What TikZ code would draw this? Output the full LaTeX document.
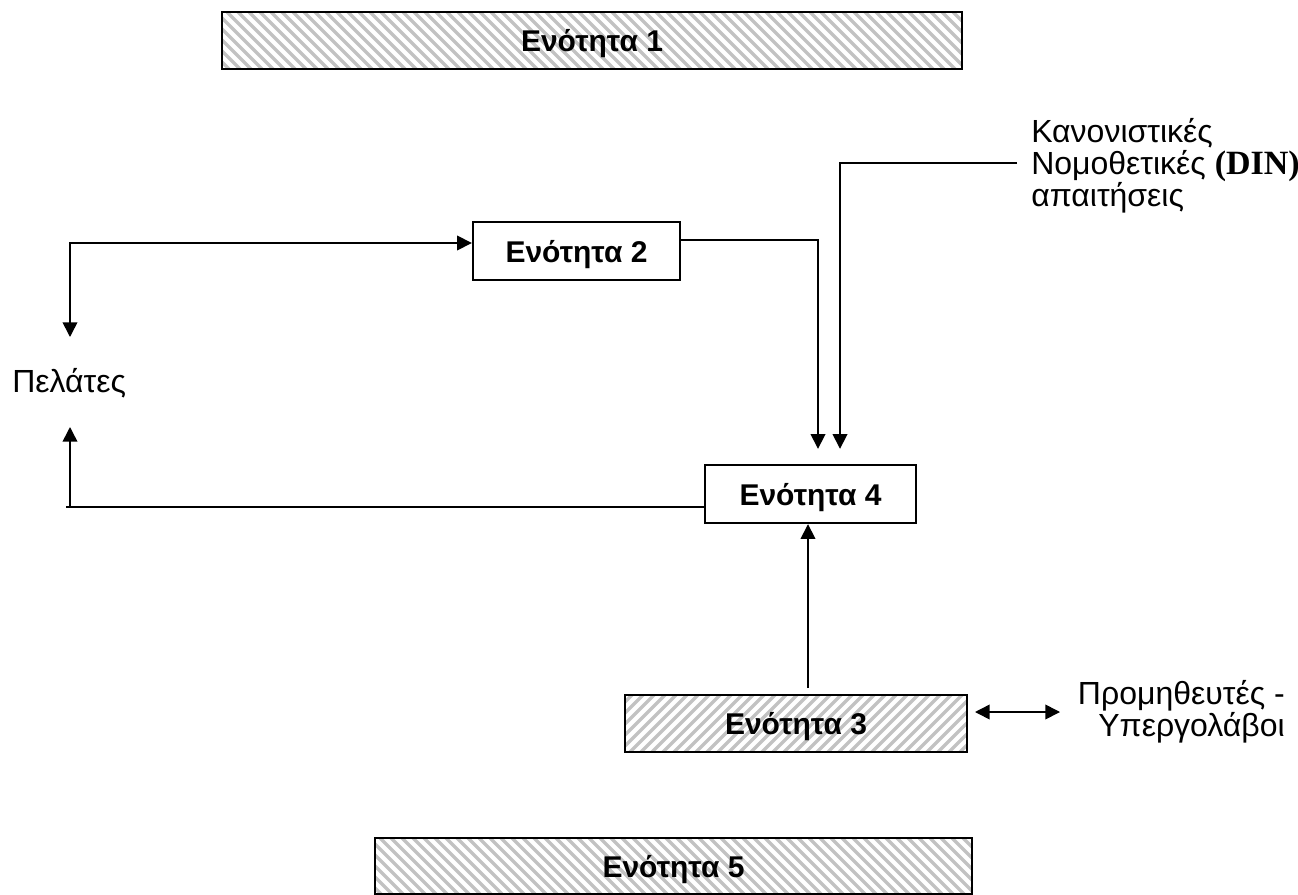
\documentclass[tikz,border=0pt]{standalone}
\usepackage{fontspec}
\setmainfont{Liberation Sans}
\newfontfamily\dinfont{Liberation Serif}
\usetikzlibrary{arrows.meta,calc}

\begin{document}
\begin{tikzpicture}[x=0.75pt,y=-0.75pt,
  box/.style={draw=black,line width=1.8pt,inner sep=0pt,text depth=0pt,
    font=\bfseries\fontsize{22.5}{26}\selectfont},
  stripe/.style={draw=black!24,line width=2.6pt},
  hatchdown/.style={path picture={
    \foreach \k in {-88,-77,...,770}
      \draw[stripe] ($(path picture bounding box.north west)+(\k,-5)$) -- ++(90,90);}},
  hatchup/.style={path picture={
    \foreach \k in {-88,-77,...,770}
      \draw[stripe] ($(path picture bounding box.south west)+(\k,5)$) -- ++(90,-90);}},
  label/.style={inner sep=0pt,font=\fontsize{24}{24}\selectfont},
  conn/.style={draw=black,line width=1.2pt},
  tip/.style={-{Triangle[length=11pt,width=11pt]}},
  twotips/.style={{Triangle[length=11pt,width=11pt]}-{Triangle[length=11pt,width=11pt]}}
]
\useasboundingbox (0,0) rectangle (1298,895);

% blocks
\node[box,hatchdown,minimum width=555pt,minimum height=42.75pt] (b1) at (592,40.5) {Ενότητα 1};
\node[box,minimum width=155.25pt,minimum height=43.5pt] (b2) at (576.5,251) {Ενότητα 2};
\node[box,minimum width=158.25pt,minimum height=43.5pt] (b4) at (810.5,494) {Ενότητα 4};
\node[box,hatchup,minimum width=256.5pt,minimum height=42.75pt] (b3) at (796,723.5) {Ενότητα 3};
\node[box,hatchdown,minimum width=447.75pt,minimum height=42pt] (b5) at (673.5,866) {Ενότητα 5};

% outside parties
\node[label,anchor=west] (pel) at (12,383) {Πελάτες};
\node[label,anchor=west,align=left] (din) at (1031,166)
  {Κανονιστικές\\Νομοθετικές {\dinfont\bfseries\fontsize{25.5}{24}\selectfont (DIN)}\\απαιτήσεις};
\node[label,anchor=east,align=right] (sup) at (1285,712)
  {Προμηθευτές -\\Υπεργολάβοι};

% routing points
\coordinate (cA) at (70,243);
\coordinate (cAd) at (70,337);
\coordinate (cB) at (818,240);
\coordinate (cD) at (1017,163);
\coordinate (cDc) at (840,163);
\coordinate (cL) at (66,507);
\coordinate (cLu) at (70,427);
\coordinate (cU) at (808,688);
\coordinate (cS) at (975,712);
\coordinate (cSe) at (1060,712);

% connectors
\draw[conn,twotips] (cAd) -- (cA) -- (cA -| b2.west);
\draw[conn,tip] (b2.east |- cB) -- (cB) -- ($(b4.north -| cB)+(0,-15)$);
\draw[conn,tip] (cD) -- (cDc) -- ($(b4.north -| cDc)+(0,-15)$);
\draw[conn] (b4.west |- cL) -- (cL);
\draw[conn,tip] (cL -| cLu) -- (cLu);
\draw[conn,tip] (cU) -- (b4.south -| cU);
\draw[conn,twotips] (cS) -- (cSe);
\end{tikzpicture}
\end{document}
